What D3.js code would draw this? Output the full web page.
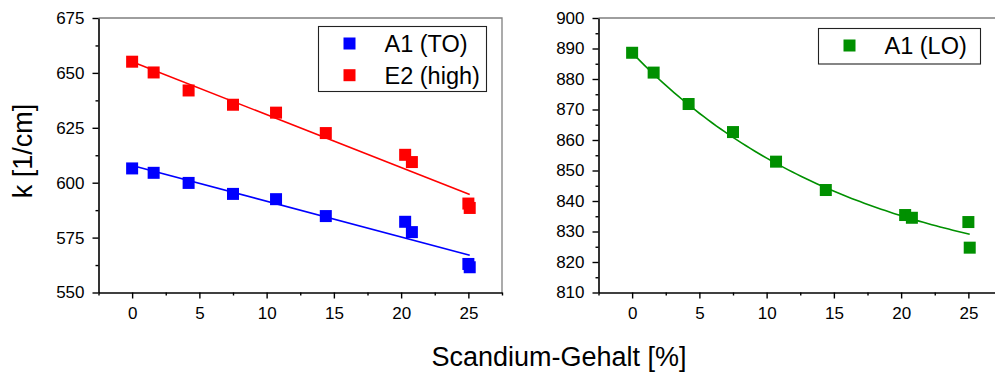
<!DOCTYPE html>
<html>
<head>
<meta charset="utf-8">
<script src="https://cdn.jsdelivr.net/npm/d3@7"></script>
<style>
  body { margin: 0; background: #fff; }
  svg { display: block; }
  text { font-family: "Liberation Sans", Arial, Helvetica, sans-serif; fill: #000; }
</style>
</head>
<body>
<svg id="chart" width="995" height="374"></svg>
<script>
// Scandium content [%] of the measured samples
const gehalt = [0, 1.6, 4.2, 7.5, 10.7, 14.4, 20.3, 20.8, 25.0, 25.1];
// Phonon wavenumbers k [1/cm]
const a1TO   = [606.5, 604.5, 599.9, 594.9, 592.5, 584.8, 582.2, 577.5, 563.0, 561.5];
const e2High = [655.1, 650.2, 642.0, 635.5, 631.9, 622.6, 612.7, 609.4, 590.5, 588.5];
const a1LO   = [888.6, 882.1, 871.8, 862.6, 852.9, 843.6, 835.4, 834.5, 833.1, 824.7];
// Exponential decay fit of A1 (LO): y0 + A * exp(-x / t)
const loFit = [812.3, 76.3, 16.6];

const seriesNames = ["A1 (TO)", "E2 (high)", "A1 (LO)"];
const seriesColors = ["#0000ff", "#ff0000", "#009000"];

const xDomain = [-2.5, 27.5];
const xTicks = [0, 5, 10, 15, 20, 25];
const xMinorTicks = [-2.5, 2.5, 7.5, 12.5, 17.5, 22.5, 27.5];
const leftYDomain = [550, 675];
const leftYTicks = [550, 575, 600, 625, 650, 675];
const leftYMinorTicks = [562.5, 587.5, 612.5, 637.5, 662.5];
const rightYDomain = [810, 900];
const rightYTicks = [810, 820, 830, 840, 850, 860, 870, 880, 890, 900];
const rightYMinorTicks = [815, 825, 835, 845, 855, 865, 875, 885, 895];

const svg = d3.select("#chart");
const plotTop = 18, plotBottom = 292.5;
const tickFont = 17;

// least-squares straight line through (xs, ys)
function linearFit(xs, ys) {
  const mx = d3.mean(xs), my = d3.mean(ys);
  let sxy = 0, sxx = 0;
  xs.forEach((v, i) => { sxy += (v - mx) * (ys[i] - my); sxx += (v - mx) * (v - mx); });
  const slope = sxy / sxx;
  return v => my + slope * (v - mx);
}

function panel(left, right, yDomain, yTicks, yMinor) {
  const x = d3.scaleLinear().domain(xDomain).range([left, right]);
  const y = d3.scaleLinear().domain(yDomain).range([plotBottom, plotTop]);
  const g = svg.append("g");

  // top and right frame
  g.append("path")
    .attr("d", `M${x(xDomain[0])},${y(yDomain[1])}H${x(xDomain[1])}V${y(yDomain[0])}`)
    .attr("fill", "none").attr("stroke", "#7f7f7f").attr("stroke-width", 1.3);

  // bottom axis
  const bx = g.append("g").attr("transform", `translate(0,${plotBottom})`);
  bx.append("g").call(d3.axisBottom(x).tickValues(xMinorTicks).tickSize(3).tickSizeOuter(0).tickFormat(""))
    .call(a => a.select(".domain").remove());
  bx.append("g").call(d3.axisBottom(x).tickValues(xTicks).tickSize(6).tickSizeOuter(0).tickPadding(8).tickFormat(d3.format("d")));

  // left axis
  const ly = g.append("g").attr("transform", `translate(${left},0)`);
  ly.append("g").call(d3.axisLeft(y).tickValues(yMinor).tickSize(3).tickSizeOuter(0).tickFormat(""))
    .call(a => a.select(".domain").remove());
  ly.append("g").call(d3.axisLeft(y).tickValues(yTicks).tickSize(6).tickSizeOuter(0).tickPadding(8).tickFormat(d3.format("d")));

  g.selectAll(".tick line").attr("stroke", "#000").attr("stroke-width", 1.4);
  g.selectAll(".domain").attr("stroke", "#000").attr("stroke-width", 1.6);
  g.selectAll(".tick text").attr("font-size", tickFont).attr("font-family", "Liberation Sans, Arial, sans-serif");

  return { g, x, y };
}

function markers(p, values, color) {
  p.g.append("g").selectAll("rect")
    .data(values.map((v, i) => [gehalt[i], v]))
    .join("rect")
    .attr("x", d => p.x(d[0]) - 6).attr("y", d => p.y(d[1]) - 6)
    .attr("width", 12).attr("height", 12)
    .attr("fill", color);
}

function fitLine(p, f, color, samples) {
  const xr = d3.extent(gehalt);
  const xs = samples ? d3.range(samples + 1).map(i => xr[0] + (xr[1] - xr[0]) * i / samples) : xr;
  p.g.append("path")
    .attr("d", d3.line().x(v => p.x(v)).y(v => p.y(f(v)))(xs))
    .attr("fill", "none").attr("stroke", color).attr("stroke-width", 1.6);
}

function legend(p, x0, y0, w, h, entries) {
  const lg = p.g.append("g");
  lg.append("rect").attr("x", x0).attr("y", y0).attr("width", w).attr("height", h)
    .attr("fill", "#fff").attr("stroke", "#222").attr("stroke-width", 1.1);
  entries.forEach((e, i) => {
    const cy = y0 + 17 + i * 31.7;
    lg.append("rect").attr("x", x0 + 25).attr("y", cy - 6).attr("width", 12).attr("height", 12).attr("fill", e.color);
    lg.append("text").attr("x", x0 + 66).attr("y", cy + 8.5).attr("font-size", 23.5).text(e.name);
  });
}

// left panel: A1 (TO) and E2 (high) with linear fits
const pL = panel(98.5, 502, leftYDomain, leftYTicks, leftYMinorTicks);
fitLine(pL, linearFit(gehalt, a1TO), seriesColors[0]);
fitLine(pL, linearFit(gehalt, e2High), seriesColors[1]);
markers(pL, a1TO, seriesColors[0]);
markers(pL, e2High, seriesColors[1]);
legend(pL, 318.5, 26.5, 168, 65, [
  { name: seriesNames[0], color: seriesColors[0] },
  { name: seriesNames[1], color: seriesColors[1] }
]);

// right panel: A1 (LO) with exponential fit
const pR = panel(598.5, 1002, rightYDomain, rightYTicks, rightYMinorTicks);
fitLine(pR, v => loFit[0] + loFit[1] * Math.exp(-v / loFit[2]), seriesColors[2], 80);
markers(pR, a1LO, seriesColors[2]);
legend(pR, 818.5, 28.5, 162, 35.5, [
  { name: seriesNames[2], color: seriesColors[2] }
]);

// axis titles
svg.append("text")
  .attr("transform", "translate(32,151) rotate(-90)")
  .attr("text-anchor", "middle").attr("font-size", 27)
  .text("k [1/cm]");
svg.append("text")
  .attr("x", 559).attr("y", 366)
  .attr("text-anchor", "middle").attr("font-size", 27)
  .text("Scandium-Gehalt [%]");
</script>
</body>
</html>
